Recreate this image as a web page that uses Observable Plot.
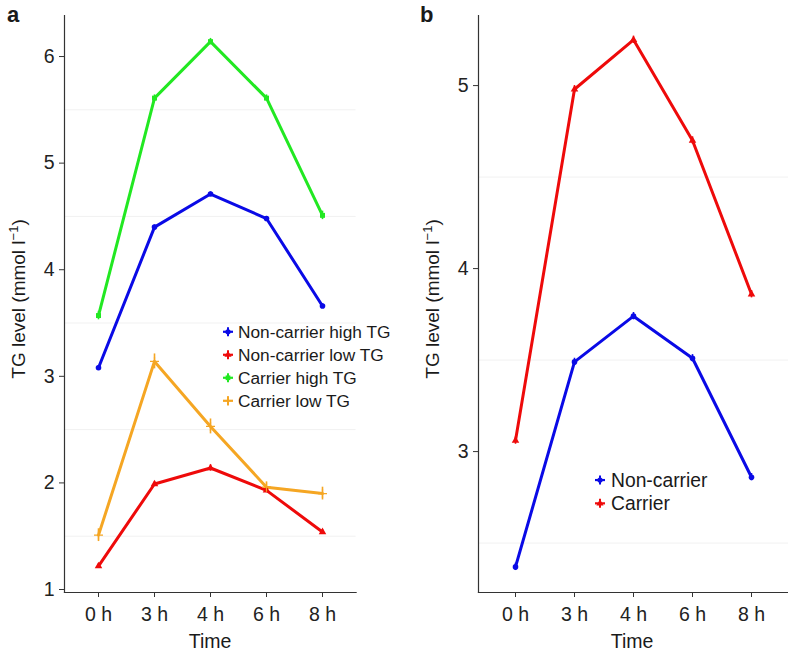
<!DOCTYPE html>
<html><head><meta charset="utf-8">
<script src="https://cdn.jsdelivr.net/npm/d3@7"></script>
<script src="https://cdn.jsdelivr.net/npm/@observablehq/plot@0.6"></script>
<style>
body{margin:0;background:#fff;}
#fig{position:relative;width:788px;height:653px;overflow:hidden;background:#fff;font-family:"Liberation Sans",Arial,Helvetica,sans-serif;}
#fig svg{position:absolute;top:0;}
</style></head>
<body><div id="fig"></div>
<script>
// ---- data ----
const times = ["0 h", "3 h", "4 h", "6 h", "8 h"];

// panel a
const seriesA = ["Non-carrier high TG", "Non-carrier low TG", "Carrier high TG", "Carrier low TG"];
const nonCarrierHighTG = [3.08, 4.40, 4.71, 4.48, 3.66];
const nonCarrierLowTG  = [1.22, 1.99, 2.14, 1.93, 1.54];
const carrierHighTG    = [3.57, 5.61, 6.14, 5.61, 4.51];
const carrierLowTG     = [1.51, 3.14, 2.53, 1.96, 1.90];
const nonCarrierHighSE = [0.02, 0.02, 0.02, 0.02, 0.02];
const nonCarrierLowSE  = [0.02, 0.02, 0.03, 0.02, 0.02];
const carrierHighSE    = [0.04, 0.03, 0.03, 0.03, 0.04];
const carrierLowSE     = [0.06, 0.07, 0.07, 0.05, 0.06];
const ticksA = [1, 2, 3, 4, 5, 6];
const gridA = [1.5, 2.5, 3.5, 4.5, 5.5];

// panel b
const seriesB = ["Non-carrier", "Carrier"];
const nonCarrier   = [2.37, 3.49, 3.74, 3.51, 2.86];
const carrier      = [3.06, 4.98, 5.25, 4.70, 3.86];
const nonCarrierSE = [0.02, 0.02, 0.02, 0.02, 0.02];
const carrierSE    = [0.02, 0.02, 0.02, 0.02, 0.02];
const ticksB = [3, 4, 5];
const gridB = [2.5, 3.5, 4.5];

// ---- styles ----
const colorsA = ["#0a0ae6", "#ee0a0a", "#22e822", "#f5a623"];
const symbolsA = ["circle", "triangle", "square", "plus"];
const colorsB = ["#0a0ae6", "#ee0a0a"];
const symbolsB = ["circle", "triangle"];
const FONT = '"Liberation Sans",Arial,Helvetica,sans-serif';

function rows(series, values, ses) {
  return series.flatMap((s, k) => times.map((t, i) => ({series: s, time: t, value: values[k][i], se: ses[k][i]})));
}
const rowsA = rows(seriesA, [nonCarrierHighTG, nonCarrierLowTG, carrierHighTG, carrierLowTG],
                            [nonCarrierHighSE, nonCarrierLowSE, carrierHighSE, carrierLowSE]);
const rowsB = rows(seriesB, [nonCarrier, carrier], [nonCarrierSE, carrierSE]);

function panel({data, series, colors, symbols, yDomain, ticks, grid, marginLeft, marginRight, fontSize}) {
  const fillRows = data.filter(d => symbols[series.indexOf(d.series)] !== "plus");
  const strokeRows = data.filter(d => symbols[series.indexOf(d.series)] === "plus");
  return Plot.plot({
    width: 394, height: 653,
    marginLeft, marginRight, marginTop: 15, marginBottom: 61,
    style: {fontFamily: FONT, fontSize: fontSize + "px", color: "#222", background: "transparent", overflow: "visible"},
    x: {type: "point", domain: times, padding: 0.6, label: null},
    y: {domain: yDomain, label: null},
    color: {domain: series, range: colors},
    symbol: {domain: series, range: symbols},
    marks: [
      Plot.ruleY(grid, {stroke: "#f1f1f1", strokeWidth: 1}),
      Plot.frame({anchor: "left", stroke: "#333", strokeWidth: 1.2}),
      Plot.frame({anchor: "bottom", stroke: "#333", strokeWidth: 1.2}),
      Plot.axisY(ticks, {tickSize: 5, tickPadding: 5, tickFormat: d3.format("d"), label: null, stroke: "#333"}),
      Plot.axisX({tickSize: 5, tickPadding: 10, label: null, stroke: "#333"}),
      Plot.ruleX(data, {x: "time", y1: d => d.value - d.se, y2: d => d.value + d.se, stroke: "series", strokeWidth: 1.6}),
      Plot.line(data, {x: "time", y: "value", z: "series", stroke: "series", strokeWidth: 3}),
      Plot.dot(fillRows, {x: "time", y: "value", symbol: "series", fill: "series", r: 2.8}),
      Plot.dot(strokeRows, {x: "time", y: "value", symbol: "series", stroke: "series", r: 3, strokeWidth: 1.2})
    ]
  });
}

const fig = document.getElementById("fig");
const pa = panel({data: rowsA, series: seriesA, colors: colorsA, symbols: symbolsA,
  yDomain: [0.972, 6.385], ticks: ticksA, grid: gridA, marginLeft: 64, marginRight: 38.4, fontSize: 19.5});
pa.style.left = "0px";
fig.appendChild(pa);
const pb = panel({data: rowsB, series: seriesB, colors: colorsB, symbols: symbolsB,
  yDomain: [2.23, 5.383], ticks: ticksB, grid: gridB, marginLeft: 84, marginRight: 0, fontSize: 19.5});
pb.style.left = "394px";
fig.appendChild(pb);

// ---- overlay: panel letters, axis titles, legends ----
const ov = d3.select(fig).append("svg").attr("width", 788).attr("height", 653)
  .style("left", "0px").style("font-family", FONT).attr("fill", "#1a1a1a");

ov.append("text").attr("x", 7).attr("y", 22).attr("font-size", 22).attr("font-weight", "bold").text("a");
ov.append("text").attr("x", 420).attr("y", 22).attr("font-size", 22).attr("font-weight", "bold").text("b");

function ytitle(x, y) {
  const t = ov.append("text").attr("transform", `translate(${x},${y}) rotate(-90)`)
    .attr("text-anchor", "middle").attr("font-size", 19);
  t.append("tspan").text("TG level (mmol l");
  t.append("tspan").attr("font-size", 13).attr("dy", -7).text("\u22121");
  t.append("tspan").attr("dy", 7).text(")");
}
ytitle(25, 299);
ytitle(439, 299);

ov.append("text").attr("x", 210).attr("y", 648).attr("text-anchor", "middle").attr("font-size", 19.5).text("Time");
ov.append("text").attr("x", 632).attr("y", 648).attr("text-anchor", "middle").attr("font-size", 19.5).text("Time");

const symMap = {circle: d3.symbolCircle, triangle: d3.symbolTriangle, square: d3.symbolSquare, plus: d3.symbolPlus};
function legend(series, colors, symbols, x, y0, dy, fontSize, symX) {
  series.forEach((s, i) => {
    const y = y0 + i * dy;
    const cy = y - fontSize * 0.36;
    const g = ov.append("g").attr("transform", `translate(${symX},${cy})`);
    g.append("line").attr("x1", -5).attr("x2", 5).attr("stroke", colors[i]).attr("stroke-width", 2.2);
    g.append("line").attr("y1", -4.5).attr("y2", 4.5).attr("stroke", colors[i]).attr("stroke-width", 2);
    const isPlus = symbols[i] === "plus";
    g.append("path").attr("d", d3.symbol(symMap[symbols[i]], isPlus ? 30 : 22)())
      .attr("fill", isPlus ? "none" : colors[i]).attr("stroke", isPlus ? colors[i] : "none").attr("stroke-width", 1.2);
    ov.append("text").attr("x", x).attr("y", y).attr("font-size", fontSize).text(s);
  });
}
legend(seriesA, colorsA, symbolsA, 238, 338, 23, 17.3, 228);
legend(seriesB, colorsB, symbolsB, 611, 487, 23.3, 19.3, 600);
</script>
</body></html>
